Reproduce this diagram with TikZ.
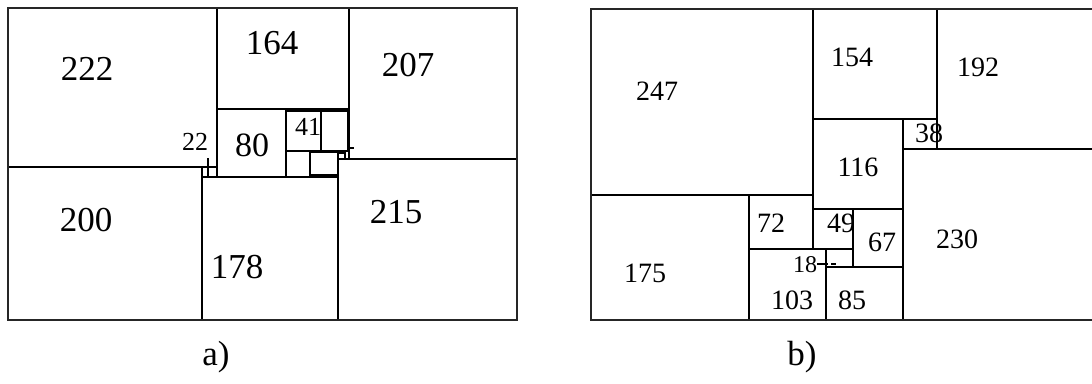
\documentclass[tikz,border=0pt]{standalone}
\usepackage{fontspec}
\setmainfont{Liberation Serif}
\tikzset{
    sq/.style = {draw, line width=1.4pt},
    rim/.style = {draw, line width=2.2pt, black!85},
    thk/.style = {draw, line width=2.6pt},
    lab/.style = {font=\fontsize{35}{40}\selectfont, inner sep=0pt},
    labm/.style = {font=\fontsize{28}{32}\selectfont, inner sep=0pt},
    labs/.style = {font=\fontsize{26}{30}\selectfont, inner sep=0pt}
}

\begin{document}
\begin{tikzpicture}[x=1pt,y=-1pt]
  \useasboundingbox (0,0) rectangle (1092,383);
  \clip (0,0) rectangle (1092,383);
  % a) squares
  \foreach \xa/\ya/\xb/\yb in {8/8/217/167, 217/8/349/109, 349/8/517/159,
      8/167/202/320, 202/177/338/320, 338/159/517/320, 217/109/286/177,
      286/111/321/151, 321/111/348/151, 286/151/310/177, 310/152/338/175,
      202/167/208/177, 208/167/217/177}{
    \draw[sq] (\xa,\ya) rectangle (\xb,\yb);
  };
  \draw[sq] (208,158) -- (208,167);
  \draw[thk] (286,111) -- (348,111);
  \draw[thk] (310,175) -- (338,175);
  \draw[sq] (348,148) -- (354,148);
  \draw[sq] (338,153) -- (345,153) -- (345,159);
  \draw[rim] (8,8) rectangle (517,320);
  \foreach \n/\px/\py in {222/87/69, 164/272/43, 207/408/65, 200/86/220,
      178/237/267, 215/396/212}{
    \node[lab] (a\n) at (\px,\py) {\n};
  };
  \node[font=\fontsize{34}{40}\selectfont, inner sep=0pt] (a80) at (252,145) {80};
  \node[labs] (a41) at (308,127) {41};
  \node[labs] (a22) at (195,142) {22};
  \node[lab] (capa) at (216,357) {a)};
  % b) squares
  \foreach \xa/\ya/\xb/\yb in {591/9/813/195, 813/9/937/119, 937/9/1100/149,
      903/119/937/149, 813/119/903/209, 903/149/1100/320, 591/195/749/320,
      749/195/813/249, 813/209/853/249, 853/209/903/267, 826/249/853/267,
      749/249/826/320, 826/267/903/320}{
    \draw[sq] (\xa,\ya) rectangle (\xb,\yb);
  };
  \draw[thk] (937,149) -- (1092,149);
  \draw[sq] (817,264) -- (828,264);
  \draw[sq] (831,264) -- (836,264);
  \draw[rim] (1100,9) -- (591,9) -- (591,320) -- (1100,320);
  \foreach \n/\px/\py in {247/657/91, 154/852/57, 192/978/67, 38/929/133,
      116/858/167, 72/771/223, 49/841/223, 67/882/242, 103/792/300,
      85/852/300, 230/957/239, 175/645/273}{
    \node[labm] (b\n) at (\px,\py) {\n};
  };
  \node[font=\fontsize{24}{28}\selectfont, inner sep=0pt] (b18) at (805,265) {18};
  \node[lab] (capb) at (802,357) {b)};
\end{tikzpicture}
\end{document}
